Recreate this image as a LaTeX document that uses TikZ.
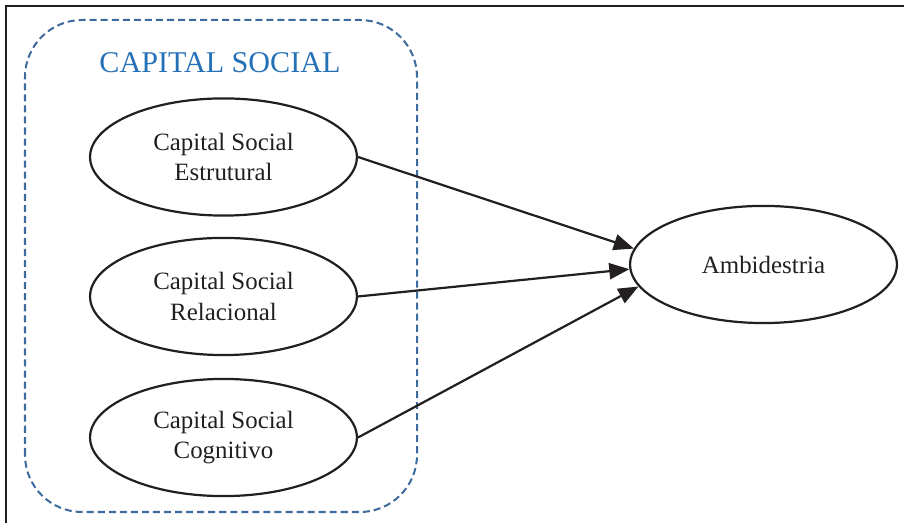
\documentclass[tikz,border=0pt]{standalone}
\usepackage{fontspec}
\setmainfont{Liberation Serif}
\usetikzlibrary{arrows.meta, shapes.geometric}
\definecolor{boxblue}{RGB}{61,107,158}
\definecolor{titleblue}{RGB}{36,113,184}
\definecolor{ink}{RGB}{35,31,32}

\begin{document}
\begin{tikzpicture}[
  construct/.style={draw=ink, ellipse, line width=1.1pt, minimum width=4.67cm, minimum height=2.05cm,
    inner sep=0pt, align=center, text=ink, font=\fontsize{12.4}{15}\selectfont},
  link/.style={-{Triangle[length=10pt, width=8pt]}, draw=ink, fill=ink, line width=1.1pt}
]
  \def\W{15.82}
  \def\H{9.1525}
  \useasboundingbox (0,0) rectangle (\W,\H);

  % frame: only top and left edge
  \draw[ink, line width=0.7pt] (0.105,0) -- (0.105,9.0475) -- (\W,9.0475);

  % dashed group around the three dimensions
  \draw[boxblue, line width=1pt, dash pattern=on 3.5pt off 2pt, rounded corners=1cm]
    (0.4375,0.1925) rectangle (7.2975,8.8025);
  \node[titleblue, font=\fontsize{15}{18}\selectfont] (title) at (3.85,8.05) {CAPITAL SOCIAL};

  % dimensions
  \node[construct] (est) at (3.911,6.405) {Capital Social\\Estrutural};
  \node[construct] (rel) at (3.911,3.964) {Capital Social\\Relacional};
  \node[construct] (cog) at (3.911,1.496) {Capital Social\\Cognitivo};

  % outcome
  \node[construct] (amb) at (13.361,4.524) {Ambidestria};

  % paths
  \draw[link] (est.east) -- (amb.173);
  \draw[link] (rel.east) -- (amb.182);
  \draw[link] (cog.east) -- (amb.190);
\end{tikzpicture}
\end{document}
